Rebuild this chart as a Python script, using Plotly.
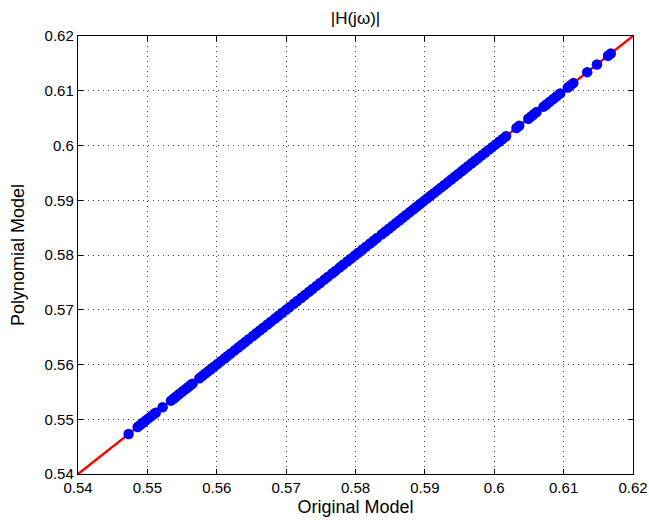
import plotly.graph_objects as go

# Diagonal reference line (ideal match)
line_x = [0.54, 0.62]
line_y = [0.54, 0.62]

# Original model magnitude values
original = [
    0.5473, 0.5486, 0.5490, 0.5494, 0.5498, 0.5502, 0.5506, 0.5510, 0.5512,
    0.5522, 0.5534, 0.5538, 0.5542, 0.5546, 0.5551, 0.5555, 0.5558, 0.5562,
    0.5565, 0.5575, 0.5579, 0.5583, 0.5587, 0.5591, 0.5596, 0.5601, 0.5606,
    0.5611, 0.5615, 0.5620, 0.5626, 0.5631, 0.5636, 0.5641, 0.5646, 0.5652,
    0.5657, 0.5662, 0.5667, 0.5673, 0.5678, 0.5684, 0.5689, 0.5694, 0.5700,
    0.5705, 0.5711, 0.5716, 0.5722, 0.5727, 0.5733, 0.5738, 0.5744, 0.5749,
    0.5755, 0.5760, 0.5766, 0.5771, 0.5777, 0.5782, 0.5788, 0.5793, 0.5799,
    0.5804, 0.5810, 0.5815, 0.5821, 0.5826, 0.5831, 0.5838, 0.5843, 0.5848,
    0.5853, 0.5858, 0.5863, 0.5868, 0.5873, 0.5878, 0.5883, 0.5888, 0.5893,
    0.5898, 0.5903, 0.5908, 0.5913, 0.5918, 0.5923, 0.5928, 0.5933, 0.5938,
    0.5943, 0.5948, 0.5953, 0.5957, 0.5962, 0.5967, 0.5972, 0.5977, 0.5982,
    0.5987, 0.5992, 0.5997, 0.6002, 0.6007, 0.6012, 0.6017,
    0.6032, 0.6036, 0.6049, 0.6053, 0.6057, 0.6061, 0.6071,
    0.6075, 0.6080, 0.6085, 0.6090, 0.6095, 0.6106, 0.6110, 0.6114,
    0.6134, 0.6148, 0.6164, 0.6168,
]
# Polynomial model magnitude values
polynomial = [
    0.5473, 0.5486, 0.5490, 0.5494, 0.5498, 0.5502, 0.5506, 0.5510, 0.5512,
    0.5522, 0.5534, 0.5538, 0.5542, 0.5546, 0.5551, 0.5555, 0.5558, 0.5562,
    0.5565, 0.5575, 0.5579, 0.5583, 0.5587, 0.5591, 0.5596, 0.5601, 0.5606,
    0.5611, 0.5615, 0.5620, 0.5626, 0.5631, 0.5636, 0.5641, 0.5646, 0.5652,
    0.5657, 0.5662, 0.5667, 0.5673, 0.5678, 0.5684, 0.5689, 0.5694, 0.5700,
    0.5705, 0.5711, 0.5716, 0.5722, 0.5727, 0.5733, 0.5738, 0.5744, 0.5749,
    0.5755, 0.5760, 0.5766, 0.5771, 0.5777, 0.5782, 0.5788, 0.5793, 0.5799,
    0.5804, 0.5810, 0.5815, 0.5821, 0.5826, 0.5831, 0.5838, 0.5843, 0.5848,
    0.5853, 0.5858, 0.5863, 0.5868, 0.5873, 0.5878, 0.5883, 0.5888, 0.5893,
    0.5898, 0.5903, 0.5908, 0.5913, 0.5918, 0.5923, 0.5928, 0.5933, 0.5938,
    0.5943, 0.5948, 0.5953, 0.5957, 0.5962, 0.5967, 0.5972, 0.5977, 0.5982,
    0.5987, 0.5992, 0.5997, 0.6002, 0.6007, 0.6012, 0.6017,
    0.6032, 0.6036, 0.6049, 0.6053, 0.6057, 0.6061, 0.6071,
    0.6075, 0.6080, 0.6085, 0.6090, 0.6095, 0.6106, 0.6110, 0.6114,
    0.6134, 0.6148, 0.6164, 0.6168,
]

tick_vals = [0.54, 0.55, 0.56, 0.57, 0.58, 0.59, 0.60, 0.61, 0.62]
tick_text = ["0.54", "0.55", "0.56", "0.57", "0.58", "0.59", "0.6", "0.61", "0.62"]

FONT = "Liberation Sans, Arial, Helvetica, sans-serif"

fig = go.Figure()
fig.add_trace(go.Scatter(
    x=line_x, y=line_y, mode="lines",
    line=dict(color="#ff0000", width=2.5),
    hoverinfo="skip", showlegend=False,
))
fig.add_trace(go.Scatter(
    x=original, y=polynomial, mode="markers",
    marker=dict(color="#0000ff", size=10.5, line=dict(width=0)),
    showlegend=False,
))

axis_common = dict(
    range=[0.54, 0.62],
    tickvals=tick_vals,
    ticktext=tick_text,
    ticks="inside",
    ticklen=5,
    tickwidth=1,
    tickcolor="#000",
    showline=True,
    linecolor="#000",
    linewidth=1.2,
    mirror="ticks",
    showgrid=True,
    gridcolor="#444",
    gridwidth=1,
    griddash="1px,4px",
    zeroline=False,
    automargin=False,
    tickfont=dict(family=FONT, size=15, color="#000"),
)

fig.update_layout(
    width=649, height=525,
    margin=dict(l=78, r=16, t=36, b=51, autoexpand=False),
    paper_bgcolor="#ffffff",
    plot_bgcolor="#ffffff",
    title=dict(
        text="|H(jω)|", x=0.5, xref="paper", xanchor="center",
        y=1 - 18 / 525, yanchor="middle",
        font=dict(family=FONT, size=17, color="#000"),
    ),
    xaxis=dict(
        **axis_common,
        title=dict(text="Original Model", standoff=5,
                   font=dict(family=FONT, size=18, color="#000")),
    ),
    yaxis=dict(
        **axis_common,
        title=dict(text="Polynomial Model", standoff=15,
                   font=dict(family=FONT, size=18, color="#000")),
    ),
)

fig.write_html(
    "out.html",
    config={"displayModeBar": False, "staticPlot": True},
    post_script="document.body.style.margin='0';document.body.style.overflow='hidden';",
)
